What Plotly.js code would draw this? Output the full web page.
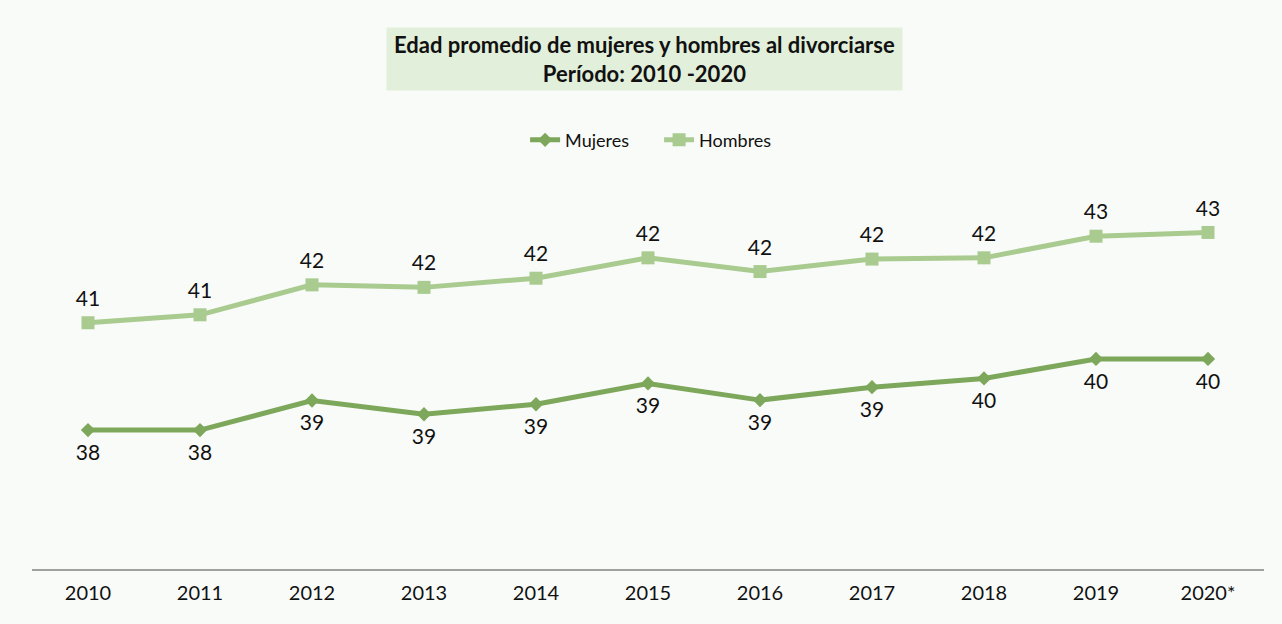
<!DOCTYPE html>
<html>
<head>
<meta charset="utf-8">
<script src="https://cdn.plot.ly/plotly-3.0.1.min.js"></script>
<style>html,body{margin:0;padding:0;background:#f9fbf9;}#chart{width:1282px;height:624px;}</style>
</head>
<body>
<div id="chart"></div>
<script>
const years = ['2010','2011','2012','2013','2014','2015','2016','2017','2018','2019','2020*'];
const mujeres = [38.34, 38.34, 39.05, 38.72, 38.96, 39.46, 39.06, 39.37, 39.58, 40.05, 40.05];
const hombres = [40.92, 41.11, 41.83, 41.77, 41.99, 42.48, 42.15, 42.45, 42.48, 43.00, 43.09];
const titleText = '<b>Edad promedio de mujeres y hombres al divorciarse<br>Período: 2010 -2020</b>';

const FONT = 'Lato, "Open Sans", sans-serif';
const C_M = '#7da75a', C_H = '#a9cb8f';
const traces = [
  {
    x: years, y: mujeres, type: 'scatter', mode: 'markers+text', showlegend: false, hoverinfo: 'skip',
    marker: {size: 21, opacity: 0},
    texttemplate: '%{y:.0f}', textposition: 'bottom center',
    textfont: {family: FONT, size: 21, color: '#111'}
  },
  {
    x: years, y: hombres, type: 'scatter', mode: 'markers+text', showlegend: false, hoverinfo: 'skip',
    marker: {size: 17, opacity: 0},
    texttemplate: '%{y:.0f}', textposition: 'top center',
    textfont: {family: FONT, size: 21, color: '#111'}
  },
  {
    x: years, y: mujeres, name: 'Mujeres', type: 'scatter', mode: 'lines+markers',
    line: {color: C_M, width: 5},
    marker: {symbol: 'diamond', size: 11, color: C_M}
  },
  {
    x: years, y: hombres, name: 'Hombres', type: 'scatter', mode: 'lines+markers',
    line: {color: C_H, width: 5},
    marker: {symbol: 'square', size: 13, color: C_H}
  }
];

const layout = {
  width: 1282, height: 624,
  paper_bgcolor: '#f9fbf9', plot_bgcolor: '#f9fbf9',
  margin: {l: 32, r: 18, t: 153, b: 55},
  font: {family: FONT, color: '#111'},
  showlegend: true,
  legend: {orientation: 'h', x: 0.509, xanchor: 'center', y: 1.031, yanchor: 'middle',
           entrywidth: 89, entrywidthmode: 'pixels',
           font: {family: FONT, size: 18, color: '#111'}, bgcolor: 'rgba(0,0,0,0)'},
  xaxis: {
    type: 'category', range: [-0.5, 10.5], showgrid: false, zeroline: false,
    showline: true, linecolor: '#a0a0a0', linewidth: 2, ticks: '',
    tickfont: {family: FONT, size: 20, color: '#111'}, ticklabelstandoff: 5
  },
  yaxis: {range: [35, 45], visible: false, showgrid: false, zeroline: false},
  annotations: [{
    text: titleText, xref: 'paper', yref: 'paper',
    x: 0.497, y: 1.226, xanchor: 'center', yanchor: 'middle',
    showarrow: false, bgcolor: '#e2efda', width: 515, height: 62, borderpad: 0,
    font: {family: FONT, size: 22, color: '#111'}
  }]
};

Plotly.newPlot('chart', traces, layout, {displayModeBar: false});
</script>
</body>
</html>
